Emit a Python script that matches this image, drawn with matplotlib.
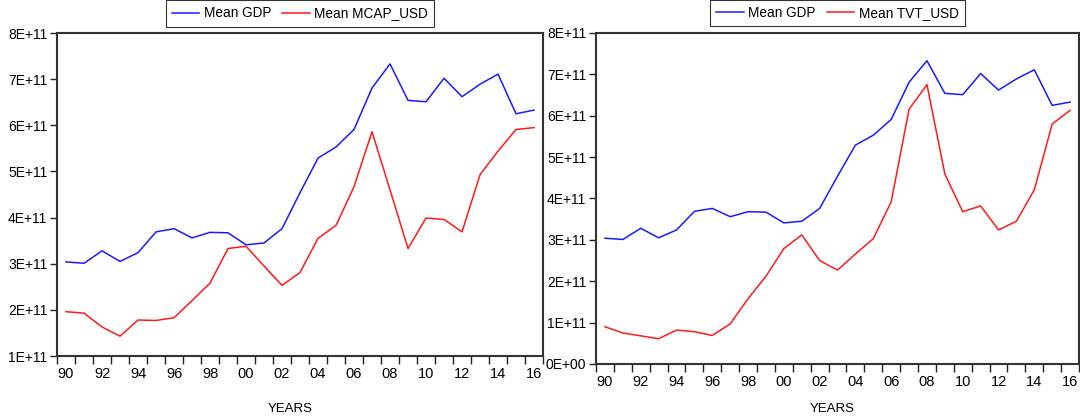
#!/usr/bin/env python3
"""
Mean GDP against mean market capitalisation and mean value traded, 1990-2016.
Values read off the EViews line graphs.
"""

import matplotlib.pyplot as plt
import numpy as np

plt.rcParams["font.family"] = ["Liberation Sans", "DejaVu Sans"]

# Data (units of 1E+11 USD)
years = list(range(1990, 2017))

mean_gdp = [3.04, 3.01, 3.28, 3.05, 3.24, 3.69, 3.76, 3.56, 3.68, 3.67,
            3.41, 3.45, 3.76, 4.54, 5.29, 5.53, 5.91, 6.81, 7.33, 6.54,
            6.51, 7.02, 6.62, 6.89, 7.11, 6.25, 6.33]

mean_mcap = [1.96, 1.93, 1.63, 1.43, 1.78, 1.77, 1.83, 2.20, 2.58, 3.33,
             3.38, 2.95, 2.53, 2.81, 3.55, 3.83, 4.67, 5.86, 4.60, 3.33,
             3.99, 3.96, 3.69, 4.93, 5.44, 5.91, 5.95]

mean_tvt = [0.90, 0.75, 0.68, 0.61, 0.82, 0.78, 0.69, 0.97, 1.58, 2.12,
            2.79, 3.12, 2.50, 2.27, 2.66, 3.03, 3.92, 6.16, 6.75, 4.59,
            3.68, 3.82, 3.24, 3.45, 4.21, 5.80, 6.13]

left_yticks = [1, 2, 3, 4, 5, 6, 7, 8]
right_yticks = [0, 1, 2, 3, 4, 5, 6, 7, 8]

x = np.array(years)
scale = 1e11

fig = plt.figure(figsize=(10.8, 4.18), dpi=100)
ax1 = fig.add_axes([0.0528, 0.1483, 0.45, 0.7727])
ax2 = fig.add_axes([0.5519, 0.1292, 0.4472, 0.7919])


def style(ax, yticks, label_x, label_y):
    ax.set_xlim(years[0] - 0.5, years[-1] + 0.5)
    ax.set_ylim(yticks[0] * scale, yticks[-1] * scale)

    # labels sit in the middle of each year, ticks on the year boundaries
    even = [y for y in years if y % 2 == 0]
    ax.set_xticks(even)
    ax.set_xticklabels([f"{y % 100:02d}" for y in even])
    ax.set_xticks(np.arange(years[0] - 0.5, years[-1] + 1), minor=True)
    ax.tick_params(axis="x", which="major", length=0, pad=8, labelsize=10.5)
    ax.tick_params(axis="x", which="minor", length=6, width=1, color="#222222")

    ax.set_yticks([v * scale for v in yticks])
    ax.set_yticklabels([f"{v * scale:.0E}" for v in yticks])
    ax.tick_params(axis="y", length=5, width=1, pad=2, labelsize=10,
                   color="#222222")

    for s in ax.spines.values():
        s.set_linewidth(1.5)
        s.set_color("#333333")

    ax.set_xlabel("YEARS", fontsize=9.5)
    ax.xaxis.set_label_coords(label_x, label_y)
    ax.xaxis.label.set_va("center")

    leg = ax.legend(loc="lower center", bbox_to_anchor=(0.5, 1.02), ncol=2,
                    fontsize=9.8, frameon=True, fancybox=False,
                    edgecolor="black", borderpad=0.45, handlelength=2.0,
                    columnspacing=0.8, handletextpad=0.35, borderaxespad=0)
    leg.get_frame().set_linewidth(0.8)


# Left: GDP vs market capitalisation
ax1.plot(x, np.array(mean_gdp) * scale, color="#1a1aff", lw=1.1, label="Mean GDP")
ax1.plot(x, np.array(mean_mcap) * scale, color="#ff1a1a", lw=1.1,
         label="Mean MCAP_USD")
style(ax1, left_yticks, 0.479, -0.164)

# Right: GDP vs value traded
ax2.plot(x, np.array(mean_gdp) * scale, color="#1a1aff", lw=1.1, label="Mean GDP")
ax2.plot(x, np.array(mean_tvt) * scale, color="#ff1a1a", lw=1.1,
         label="Mean TVT_USD")
style(ax2, right_yticks, 0.489, -0.136)

fig.savefig("out.png", dpi=100)
